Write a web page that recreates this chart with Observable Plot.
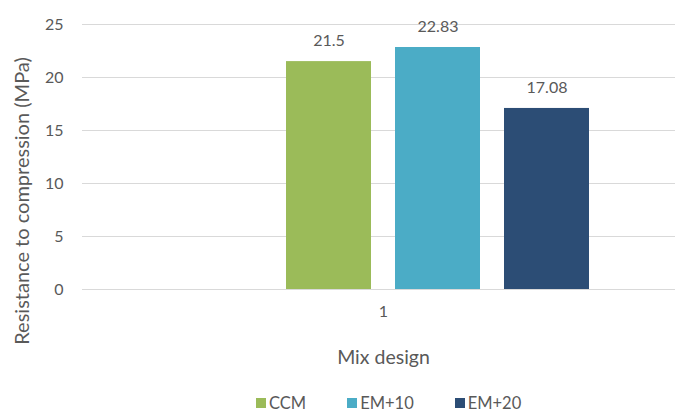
<!DOCTYPE html>
<html>
<head>
<meta charset="utf-8">
<script src="https://cdn.jsdelivr.net/npm/d3@7"></script>
<script src="https://cdn.jsdelivr.net/npm/@observablehq/plot@0.6"></script>
<style>
  body { margin: 0; background: #fff; font-family: Lato, "Open Sans", sans-serif; }
  #chart { width: 675px; }
  .lg-swatches { justify-content: flex-start; margin: 0 !important; min-height: 16px !important; padding-top: 5px; padding-left: 256px; font-size: 16.5px; color: #595959; line-height: 16px; }
  .lg-swatch { margin-right: 41px !important; }
  .lg-swatch:last-child { margin-right: 0 !important; }
  .lg-swatch svg { margin-right: 3px !important; }
</style>
</head>
<body>
<div id="chart"></div>
<script>
// Compressive strength by mix design
const mixes = ["1"];
const series = ["CCM", "EM+10", "EM+20"];
const strength = [21.5, 22.83, 17.08];
const colors = ["#9BBB59", "#4BACC6", "#2C4D75"];
const yTicks = [0, 5, 10, 15, 20, 25];

// the cluster has an empty series slot ahead of CCM
const slots = ["", ...series];

const rows = series.map((s, i) => ({mix: mixes[0], series: s, value: strength[i]}));
const ink = "#595959";
const font = "Lato, 'Open Sans', sans-serif";

const chart = Plot.plot({
  width: 675,
  height: 390,
  marginLeft: 82,
  marginRight: -9,
  marginTop: 24,
  marginBottom: 101,
  style: {fontFamily: font, fontSize: "16px", color: ink, background: "#fff"},
  fx: {domain: mixes, padding: 0},
  x: {domain: slots, paddingInner: 0.217, paddingOuter: 0.864, axis: null},
  y: {domain: [0, 25]},
  color: {domain: series, range: colors},
  marks: [
    Plot.gridY(yTicks, {stroke: "#D9D9D9", strokeOpacity: 1}),
    Plot.axisY(yTicks, {tickSize: 0, tickPadding: 19, label: null, fill: ink}),
    Plot.axisFx({anchor: "bottom", tickSize: 0, tickPadding: 16, label: null, fill: ink}),
    Plot.axisFx({anchor: "bottom", ticks: [], label: "Mix design", labelAnchor: "center", labelOffset: 74, fontSize: 19.5, fill: ink}),
    Plot.barY(rows, {fx: "mix", x: "series", y: "value", fill: "series"}),
    Plot.text(rows, {fx: "mix", x: "series", y: "value", text: d => String(d.value), dy: -21, fill: ink}),
    Plot.text(["Resistance to compression (MPa)"], {
      frameAnchor: "left", rotate: -90, textAnchor: "middle", lineAnchor: "top",
      dx: -68, dy: 44, fontSize: 20, fill: ink
    })
  ]
});

const legend = Plot.legend({
  color: {domain: series, range: colors},
  className: "lg",
  swatchSize: 10,
  style: {fontFamily: font, fontSize: "16.5px", color: ink}
});

const root = document.getElementById("chart");
root.append(chart, legend);
</script>
</body>
</html>
